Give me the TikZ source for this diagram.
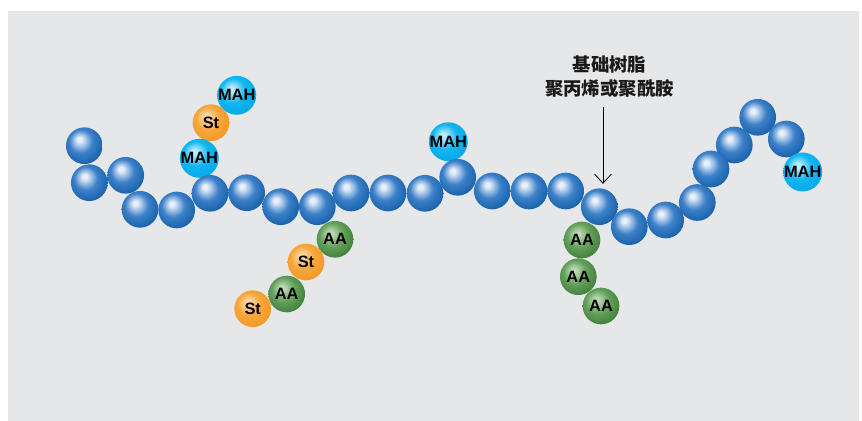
\documentclass[tikz,border=0pt]{standalone}
\usepackage{fontspec}
\setmainfont{Liberation Sans}
\newfontfamily\cjk{Noto Sans CJK SC}
\usetikzlibrary{arrows.meta}

\definecolor{bgpanel}{HTML}{E6E7E9}
\definecolor{bluehi}{HTML}{E8F0FA}
\definecolor{bluemid}{HTML}{3C80C8}
\definecolor{bluerim}{HTML}{135EA8}
\definecolor{cyanhi}{HTML}{B8ECFF}
\definecolor{cyanmid}{HTML}{12B6F0}
\definecolor{cyanrim}{HTML}{00A8E8}
\definecolor{orangehi}{HTML}{FCD9A6}
\definecolor{orangemid}{HTML}{F7A63C}
\definecolor{orangerim}{HTML}{F29823}
\definecolor{greenhi}{HTML}{BCDAB4}
\definecolor{greenmid}{HTML}{65A15B}
\definecolor{greenrim}{HTML}{3D7C39}

% sphere look: highlight up left, darker rim
\newcommand\declaresphere[4]{%
  \pgfdeclareradialshading{#1}{\pgfqpoint{-7bp}{9bp}}{%
    color(0bp)=(#2); color(3bp)=(#2); color(16bp)=(#3);
    color(31bp)=(#4); color(50bp)=(#4)}}
\declaresphere{bluesphere}{bluehi}{bluemid}{bluerim}
\declaresphere{cyansphere}{cyanhi}{cyanmid}{cyanrim}
\declaresphere{orangesphere}{orangehi}{orangemid}{orangerim}
\declaresphere{greensphere}{greenhi}{greenmid}{greenrim}

\begin{document}
\begin{tikzpicture}[x=0.03cm,y=-0.03cm,
  ball/.style={circle,minimum size=1.1cm,inner sep=0pt,text=black,
    font=\fontsize{14pt}{15pt}\selectfont\bfseries},
  bead/.style={ball,shading=bluesphere},
  mah/.style={ball,shading=cyansphere},
  st/.style={ball,shading=orangesphere},
  aa/.style={ball,shading=greensphere}]

\useasboundingbox (0,0) rectangle (862,421);
\fill[bgpanel] (8,11) rectangle (859,421);

% grafted side groups behind the backbone
\node[mah] (mahA) at (236.7,95.3) {MAH};
\node[st]  (stA)  at (211,122.7)  {St};
\node[mah] (mahB) at (199.3,158.3) {MAH};
\node[mah] (mahC) at (448.3,141.7) {MAH};

% backbone
\foreach \i/\x/\y in {1/84.3/145.7, 2/89.3/182.7, 3/125.7/175.3, 4/140/209.3,
    5/176.7/210, 6/210/193.3, 7/246.7/192.7, 8/280.7/206.7, 9/317.3/206.7,
    10/351/193, 11/388/193, 12/425/193.3, 13/457.7/177.3, 14/492.3/191,
    15/529/191, 16/565.7/191, 17/599.3/206.7, 18/629.3/226.7, 19/665.7/220}
  \node[bead] (p\i) at (\x,\y) {};

\node[bead] (p23) at (757.7,117.3) {};
\node[bead] (p24) at (786.3,139) {};
\node[mah]  (mahD) at (802.7,172) {MAH};
\node[bead] (p22) at (734.3,145) {};
\node[bead] (p21) at (711,169) {};
\node[bead] (p20) at (697.3,202.5) {};

% side groups below the backbone
\begin{scope}
  \node[aa] (aaA) at (335,239.3) {AA};
  \node[st] (stB) at (306,262)   {St};
  \node[aa] (aaB) at (286.7,294) {AA};
  \node[st] (stC) at (252.7,308.7) {St};

  \node[aa] (aaC) at (582,240)   {AA};
  \node[aa] (aaD) at (578.3,276.7) {AA};
  \node[aa] (aaE) at (601,306)   {AA};
\end{scope}

% label and pointer
\node[align=center,text=black!90,
  font=\cjk\bfseries\fontsize{15.7pt}{19.9pt}\selectfont] (resin) at (609.5,76.7)
  {基础树脂\\聚丙烯或聚酰胺};
\coordinate (pointer) at (603,107);
\draw[line width=0.7pt,-{Straight Barb[length=0.27cm,width=0.5cm]},shorten >=0.13cm]
  (pointer) -- (pointer |- p17.north);

\end{tikzpicture}
\end{document}
